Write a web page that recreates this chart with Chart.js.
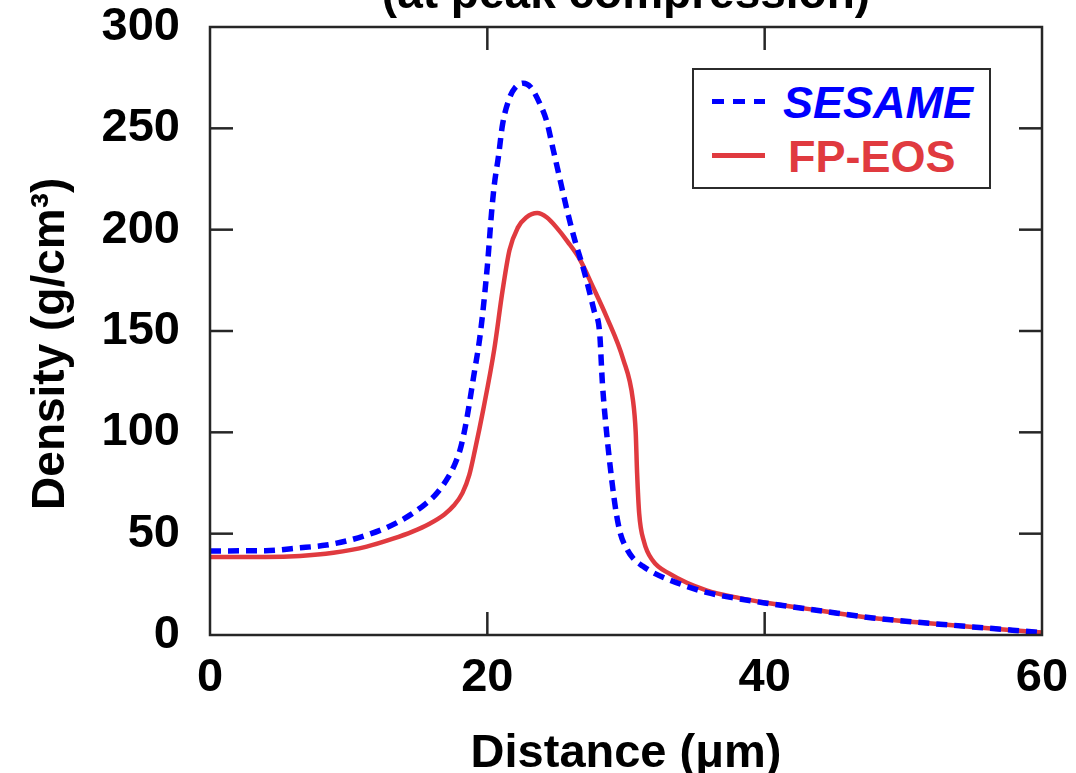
<!DOCTYPE html>
<html><head><meta charset="utf-8">
<script src="https://cdn.jsdelivr.net/npm/chart.js@4.4.1/dist/chart.umd.min.js"></script>
<style>
html,body{margin:0;padding:0;overflow:hidden;background:#fff;width:1076px;height:773px;}
#wrap{position:absolute;left:0;top:-33px;width:1076px;height:806px;}
#legend{position:absolute;left:692px;top:68px;width:299px;height:121px;box-sizing:border-box;border:2px solid #2b2b2b;background:#fff;font-family:'Liberation Sans',Arial,Helvetica,sans-serif;font-weight:bold;font-size:45px;}
.row{position:absolute;left:0;width:100%;height:45px;}
.sample{position:absolute;left:18px;width:53px;}
.label{position:absolute;top:0;line-height:45px;white-space:nowrap;}
</style></head>
<body>
<div id="wrap"><canvas id="c"></canvas></div>
<div id="legend"></div>
<script>
// ---- data ----
const titleText = '(at peak compression)';
const xAxisTitle = 'Distance (μm)';
const yAxisTitle = 'Density (g/cm³)  ';
const xTicks = [0, 20, 40, 60];
const yTicks = [0, 50, 100, 150, 200, 250, 300];
const seriesNames = ['SESAME', 'FP-EOS'];

const sesameX = [0, 4, 6.5, 8.4, 9.9, 11.3, 12.5, 13.5, 14.5, 15.5, 16.3, 17.1, 17.7, 18.1, 18.5, 19.0, 19.5, 20.0, 20.3, 20.5, 20.8, 21.1, 21.6, 22.0, 22.6, 23.1, 23.8, 24.3, 24.7, 25.2, 25.7, 26.3, 27.0, 27.7, 28.1, 28.3, 28.6, 29.0, 29.3, 29.6, 30.1, 30.5, 31.2, 31.9, 33.2, 35.8, 38.2, 40, 44, 47.8, 51, 55, 60];
const sesameY = [41.5, 41.6, 43, 44.4, 46.5, 49.3, 52.3, 55.5, 59.5, 64.5, 69.5, 77, 85, 93, 106, 127, 149, 182, 208, 222, 236, 252, 265, 270, 272.3, 270.5, 262, 253, 241, 226, 211, 195, 179, 160, 149, 124, 100, 75, 60, 50, 42, 38, 34, 31, 27, 21, 17.8, 15.8, 12, 8.4, 6.3, 4, 1.2];

const fpX = [0, 4, 6.5, 8.9, 11.3, 13.2, 14.6, 15.8, 16.9, 17.6, 18.2, 18.7, 19.1, 19.7, 20.5, 21.1, 21.6, 22.2, 22.8, 23.6, 24.3, 25.0, 25.8, 26.7, 27.6, 28.6, 29.8, 30.5, 30.7, 30.8, 30.95, 31.3, 31.9, 33.2, 35.8, 38.2, 40, 44, 47.8, 51, 55, 60];
const fpY = [38.5, 38.5, 39, 40.6, 43.6, 47.5, 51, 54.8, 59.5, 64, 70, 79, 91, 111, 141, 170, 190, 201, 206, 208.2, 206, 201, 194, 185, 172, 157, 136, 116, 100, 80, 60, 46, 37, 30, 22, 18.2, 16, 12, 8.4, 6.3, 4, 1.2];

// ---- styling ----
const FONT = "'Liberation Sans', Arial, Helvetica, sans-serif";
const BLUE = '#0000ff';
const RED = '#e03a3f';
const FRAME = '#262626';
const toPts = (xs, ys) => xs.map((x, i) => ({x, y: ys[i]}));

const datasets = [
  {label: seriesNames[0], data: toPts(sesameX, sesameY), borderColor: BLUE, borderWidth: 5.5, borderDash: [11, 7],
   cubicInterpolationMode: 'monotone', pointRadius: 0, fill: false, italic: true, legendLeft: 89},
  {label: seriesNames[1], data: toPts(fpX, fpY), borderColor: RED, borderWidth: 4.5,
   cubicInterpolationMode: 'monotone', pointRadius: 0, fill: false, italic: false, legendLeft: 94}
];

const frameTicks = {
  id: 'frameTicks',
  afterDatasetsDraw(chart) {
    const {ctx, chartArea: {left, right, top, bottom}, scales: {x, y}} = chart;
    const L = 23;
    ctx.save();
    ctx.strokeStyle = FRAME;
    ctx.lineWidth = 2.5;
    ctx.lineCap = 'butt';
    const seg = (a, b, c, d) => { ctx.beginPath(); ctx.moveTo(a, b); ctx.lineTo(c, d); ctx.stroke(); };
    x.ticks.forEach(t => {
      if (t.value <= x.min || t.value >= x.max) return;
      const px = x.getPixelForValue(t.value);
      seg(px, bottom, px, bottom - L);
      seg(px, top, px, top + L);
    });
    y.ticks.forEach(t => {
      if (t.value <= y.min || t.value >= y.max) return;
      const py = y.getPixelForValue(t.value);
      seg(left, py, left + L, py);
      seg(right, py, right - L, py);
    });
    ctx.strokeRect(left, top, right - left, bottom - top);
    ctx.restore();
  }
};

new Chart(document.getElementById('c'), {
  type: 'line',
  data: {datasets},
  options: {
    responsive: true,
    maintainAspectRatio: false,
    animation: false,
    layout: {padding: {left: 0, right: 34, top: 0, bottom: 0}},
    plugins: {
      legend: {display: false},
      tooltip: {enabled: false},
      title: {display: true, text: titleText, fullSize: false, color: '#000',
              font: {family: FONT, size: 46, weight: 'bold', lineHeight: 1.2},
              padding: {top: 0.5, bottom: 4.3}}
    },
    scales: {
      x: {
        type: 'linear', min: 0, max: 60,
        afterBuildTicks(s) { s.ticks = xTicks.map(v => ({value: v})); },
        afterFit(s) { s.height = 138; s.paddingLeft = 0; s.paddingRight = 0; },
        grid: {display: false, drawTicks: false, tickLength: 0},
        border: {display: false},
        ticks: {color: '#000', padding: 14.5, maxRotation: 0, autoSkip: false,
                font: {family: FONT, size: 47, weight: 'bold', lineHeight: 1.2}},
        title: {display: true, text: xAxisTitle, color: '#000', padding: {top: 0, bottom: 0},
                font: {family: FONT, size: 47, weight: 'bold', lineHeight: 0.8}}
      },
      y: {
        type: 'linear', min: 0, max: 300,
        afterBuildTicks(s) { s.ticks = yTicks.map(v => ({value: v})); },
        afterFit(s) { s.width = 210; s.paddingTop = 0; s.paddingBottom = 0; },
        grid: {display: false, drawTicks: false, tickLength: 0},
        border: {display: false},
        ticks: {color: '#000', padding: 30, autoSkip: false,
                font: {family: FONT, size: 47, weight: 'bold', lineHeight: 1.2}},
        title: {display: true, text: yAxisTitle, color: '#000', padding: {top: 24, bottom: 0},
                font: {family: FONT, size: 46, weight: 'bold', lineHeight: 1.2}}
      }
    }
  },
  plugins: [frameTicks]
});

// ---- HTML legend built from the datasets ----
const legend = document.getElementById('legend');
const rowTops = [10, 64];
datasets.forEach((ds, i) => {
  const row = document.createElement('div');
  row.className = 'row';
  row.style.top = rowTops[i] + 'px';
  const s = document.createElement('div');
  s.className = 'sample';
  if (ds.borderDash) {
    s.style.height = '5px'; s.style.top = '19px';
    s.style.background = `repeating-linear-gradient(to right, ${ds.borderColor} 0 12px, transparent 12px 21px)`;
  } else {
    s.style.height = '4.5px'; s.style.top = '19px';
    s.style.background = ds.borderColor;
  }
  const t = document.createElement('div');
  t.className = 'label';
  t.textContent = ds.label;
  t.style.left = ds.legendLeft + 'px';
  t.style.color = ds.borderColor;
  t.style.fontStyle = ds.italic ? 'italic' : 'normal';
  row.appendChild(s); row.appendChild(t);
  legend.appendChild(row);
});
</script>
</body></html>
